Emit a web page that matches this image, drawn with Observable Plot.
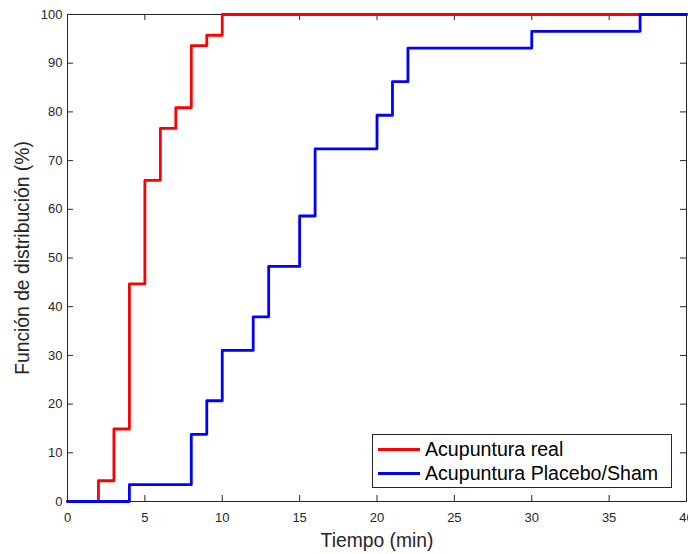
<!DOCTYPE html>
<html>
<head>
<meta charset="utf-8">
<script src="https://cdn.jsdelivr.net/npm/d3@7"></script>
<script src="https://cdn.jsdelivr.net/npm/@observablehq/plot@0.6"></script>
<style>
  body { margin: 0; background: #fff; }
  #wrap { position: relative; width: 688px; height: 554px; font-family: "Liberation Sans", Arial, Helvetica, sans-serif; }
  #legend { position: absolute; left: 372px; top: 434px; width: 300px; height: 54px; box-sizing: border-box;
            border: 1px solid #262626; background: #fff; padding-top: 2px; }
  .row { display: flex; align-items: center; height: 24px; font-size: 19.6px; color: #000; white-space: nowrap; }
  .swatch { width: 42px; height: 0; border-top: 3px solid; margin-left: 5px; margin-right: 5px; }
</style>
</head>
<body>
<div id="wrap"></div>
<script>
// ---- data ----
const seriesNames = ["Acupuntura real", "Acupuntura Placebo/Sham"];
const seriesColors = ["#ff0000", "#0000ff"];
const realTimes  = [0, 2, 3, 4, 5, 6, 7, 8, 9, 10, 40];
const realValues = [0, 4.26, 14.89, 44.68, 65.96, 76.60, 80.85, 93.62, 95.74, 100, 100];
const shamTimes  = [0, 4, 8, 9, 10, 12, 13, 15, 16, 20, 21, 22, 30, 37, 40];
const shamValues = [0, 3.45, 13.79, 20.69, 31.03, 37.93, 48.28, 58.62, 72.41, 79.31, 86.21, 93.10, 96.55, 100, 100];
const xTicks = [0, 5, 10, 15, 20, 25, 30, 35, 40];
const yTicks = [0, 10, 20, 30, 40, 50, 60, 70, 80, 90, 100];
const xLabel = "Tiempo (min)";
const yLabel = "Función de distribución (%)";

const real = realTimes.map((t, i) => ({t, v: realValues[i]}));
const sham = shamTimes.map((t, i) => ({t, v: shamValues[i]}));

// ---- layout ----
const W = 688, H = 554, mL = 67, mR = 2, mT = 14, mB = 53;
const innerW = W - mL - mR, innerH = H - mT - mB;
const axisColor = "#262626";
const font = "'Liberation Sans', Arial, Helvetica, sans-serif";

const chart = Plot.plot({
  width: W, height: H,
  marginLeft: mL, marginRight: mR, marginTop: mT, marginBottom: mB,
  style: { fontFamily: font, fontSize: "13px", color: axisColor, background: "white" },
  x: { domain: [0, 40] },
  y: { domain: [0, 100] },
  marks: [
    Plot.frame({ stroke: axisColor, strokeWidth: 1 }),
    Plot.tickX(xTicks, { x: d => d, insetTop: innerH - 6, stroke: axisColor, strokeWidth: 1 }),
    Plot.tickX(xTicks, { x: d => d, insetBottom: innerH - 6, stroke: axisColor, strokeWidth: 1 }),
    Plot.tickY(yTicks, { y: d => d, insetRight: innerW - 6, stroke: axisColor, strokeWidth: 1 }),
    Plot.tickY(yTicks, { y: d => d, insetLeft: innerW - 6, stroke: axisColor, strokeWidth: 1 }),
    Plot.axisX({ ticks: xTicks, tickSize: 0, tickPadding: 11, label: null, fontSize: 13 }),
    Plot.axisY({ ticks: yTicks, tickSize: 0, tickPadding: 5, label: null, fontSize: 13 }),
    Plot.text([xLabel], { text: d => d, frameAnchor: "bottom", dy: 39, lineAnchor: "middle", textAnchor: "middle", fontSize: 19.3, fill: axisColor }),
    Plot.text([yLabel], { text: d => d, frameAnchor: "left", rotate: -90, dx: -45, lineAnchor: "middle", textAnchor: "middle", fontSize: 19.3, fill: axisColor }),
    Plot.line(real, { x: "t", y: "v", curve: "step-after", stroke: seriesColors[0], strokeWidth: 2.8 }),
    Plot.line(sham, { x: "t", y: "v", curve: "step-after", stroke: seriesColors[1], strokeWidth: 2.8 })
  ]
});

const wrap = document.getElementById("wrap");
wrap.appendChild(chart);

const legend = document.createElement("div");
legend.id = "legend";
seriesNames.forEach((name, i) => {
  const row = document.createElement("div");
  row.className = "row";
  const sw = document.createElement("span");
  sw.className = "swatch";
  sw.style.borderTopColor = seriesColors[i];
  const tx = document.createElement("span");
  tx.textContent = name;
  row.appendChild(sw);
  row.appendChild(tx);
  legend.appendChild(row);
});
wrap.appendChild(legend);
</script>
</body>
</html>
